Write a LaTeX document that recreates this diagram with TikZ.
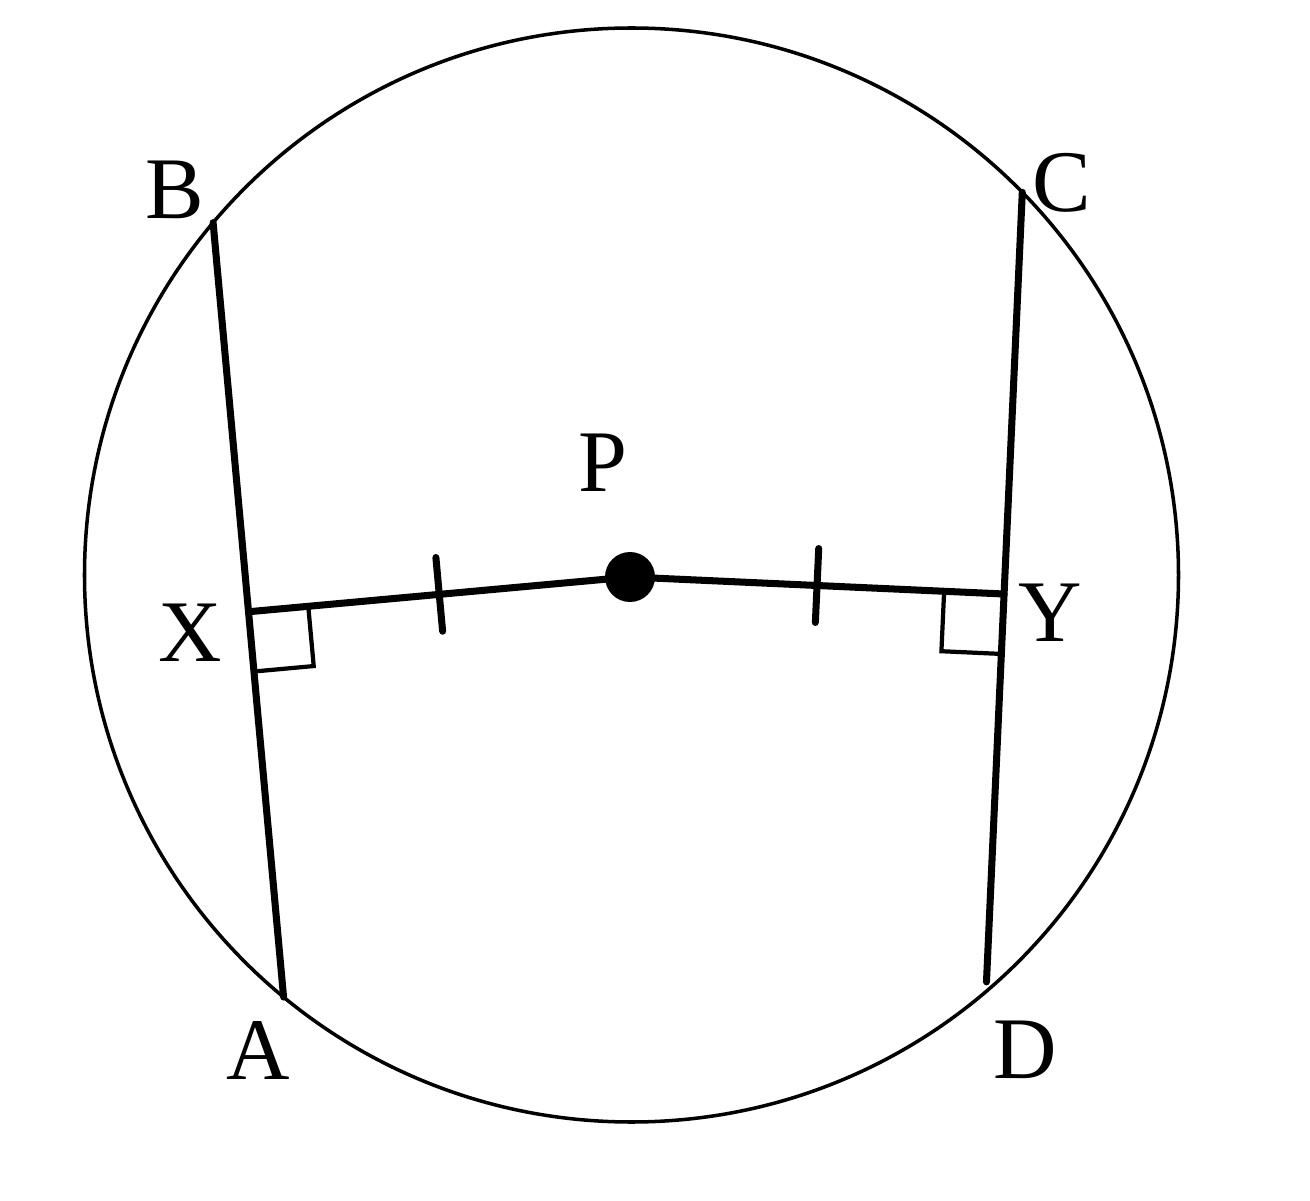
\documentclass[tikz,border=0pt]{standalone}
\usepackage{fontspec}
\setmainfont{Liberation Serif}
\usetikzlibrary{calc}
\tikzset{
  chord/.style={line width=2pt, line cap=round},
  rim/.style={line width=1pt},
  rightmark/.style={line width=1.2pt},
  lbl/.style={font=\fontsize{25}{30}\selectfont, inner sep=0pt}
}
\begin{document}
\begin{tikzpicture}
\useasboundingbox (0,0) rectangle (13.1,12);
\coordinate (O) at (6.315,6.25);
\draw[rim] (O) circle (5.47);
\coordinate (B) at ($(O)+(139.9:5.47)$);
\coordinate (A) at ($(O)+(230.5:5.47)$);
\coordinate (C) at ($(O)+(44.4:5.47)$);
\coordinate (D) at ($(O)+(311.1:5.40)$);
\coordinate (P) at (6.30,6.23);
\coordinate (X) at ($(A)!(P)!(B)$);
\coordinate (Y) at ($(D)!(P)!(C)$);
\draw[chord] (A)--(B);
\draw[chord] (D)--(C);
\draw[chord] (X)--(P)--(Y);
\fill (P) circle (0.25);
% right angles
\coordinate (x1) at ($(X)!0.6cm!(P)$);
\coordinate (x2) at ($(X)!0.6cm!(A)$);
\draw[rightmark] (x1)--($(x1)+(x2)-(X)$)--(x2);
\coordinate (y1) at ($(Y)!0.6cm!(P)$);
\coordinate (y2) at ($(Y)!0.6cm!(D)$);
\draw[rightmark] (y1)--($(y1)+(y2)-(Y)$)--(y2);
% equal ticks
\coordinate (mx) at ($(X)!0.5!(P)$);
\coordinate (my) at ($(P)!0.5!(Y)$);
\draw[chord] ($(mx)!0.37cm!90:(P)$)--($(mx)!0.37cm!-90:(P)$);
\draw[chord] ($(my)!0.37cm!90:(Y)$)--($(my)!0.37cm!-90:(Y)$);
\node[lbl] (lB) at (1.75,10.10) {B};
\node[lbl] (lC) at (10.62,10.17) {C};
\node[lbl] (lA) at (2.58,1.50) {A};
\node[lbl] (lD) at (10.25,1.50) {D};
\node[lbl] (lX) at (1.90,5.67) {X};
\node[lbl] (lY) at (10.50,5.87) {Y};
\node[lbl] (lP) at (6.03,7.37) {P};
\end{tikzpicture}
\end{document}
